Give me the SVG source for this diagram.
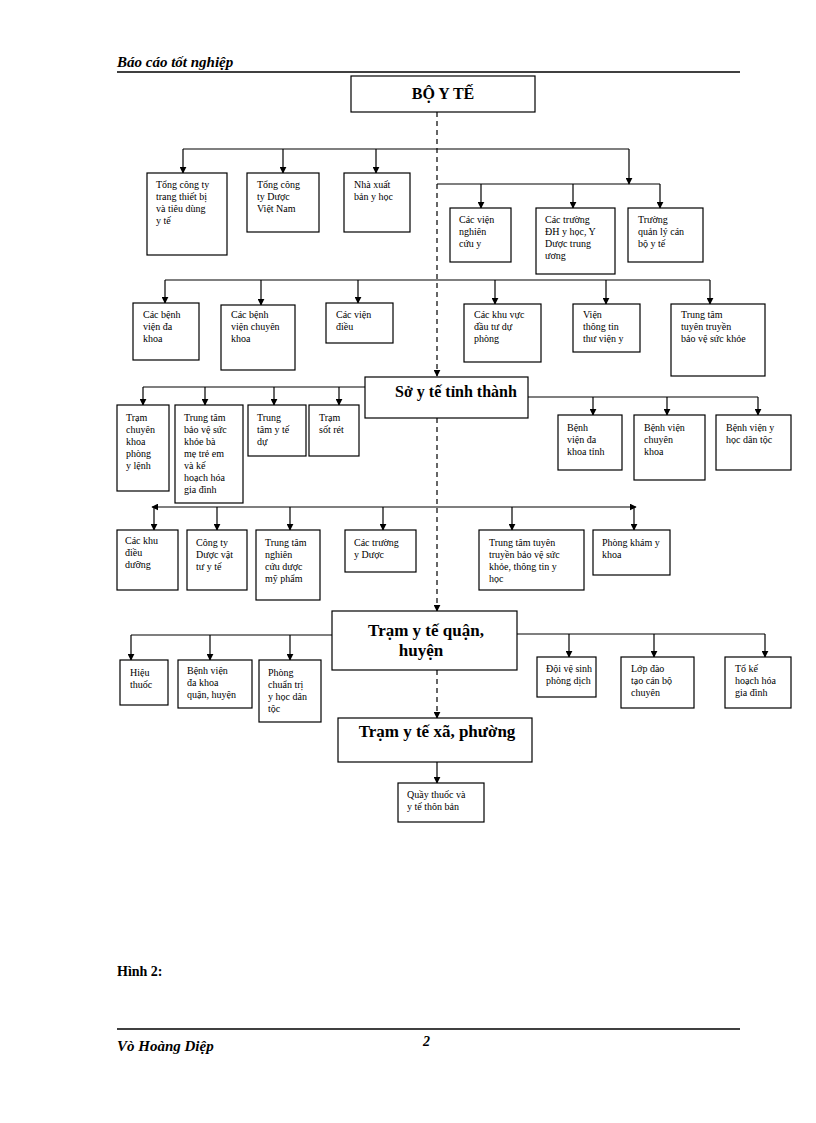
<svg xmlns="http://www.w3.org/2000/svg" width="816" height="1123" viewBox="0 0 816 1123">
<defs>
<marker id="ah" viewBox="0 0 10 10" refX="9" refY="5" markerWidth="7" markerHeight="7" orient="auto" markerUnits="userSpaceOnUse"><path d="M0,0L10,5L0,10z" fill="#000"/></marker>
<style>
.b{fill:#fff;stroke:#000;stroke-width:1.2}
.t{font-family:"Liberation Serif",serif;font-size:10px;fill:#000}
.h{font-family:"Liberation Serif",serif;font-weight:bold;fill:#000}
.c line,.c path{stroke:#000;stroke-width:1.2;fill:none}
.d{stroke-dasharray:5,4}
.a{marker-end:url(#ah)}
</style>
</defs>
<rect width="816" height="1123" fill="#fff"/>
<text x="117" y="67" class="h" font-size="15" font-style="italic">Báo cáo tốt nghiệp</text>
<line x1="117" y1="72" x2="740" y2="72" stroke="#000" stroke-width="1.5"/>
<line x1="117" y1="1029" x2="740" y2="1029" stroke="#000" stroke-width="1.5"/>
<text x="117" y="1051" class="h" font-size="15" font-style="italic">Vò Hoàng Diệp</text>
<text x="423" y="1046" class="h" font-size="14" font-style="italic">2</text>
<text x="117" y="976" class="h" font-size="14">Hình 2:</text>

<g class="c" id="connectors">
<line class="d a" x1="437" y1="112" x2="437" y2="376"/>
<line class="d a" x1="437" y1="418" x2="437" y2="611"/>
<line class="d a" x1="437" y1="670" x2="437" y2="718"/>
<line class="a" x1="437" y1="762" x2="437" y2="783"/>
<path d="M183,149H629"/>
<line class="a" x1="183" y1="149" x2="183" y2="173"/>
<line class="a" x1="283" y1="149" x2="283" y2="173"/>
<line class="a" x1="376" y1="149" x2="376" y2="173"/>
<line class="a" x1="629" y1="149" x2="629" y2="184"/>
<path d="M437,184H660"/>
<line class="a" x1="481" y1="184" x2="481" y2="208"/>
<line class="a" x1="573" y1="184" x2="573" y2="208"/>
<line class="a" x1="660" y1="184" x2="660" y2="208"/>
<path d="M165,280H710"/>
<line class="a" x1="165" y1="280" x2="165" y2="303"/>
<line class="a" x1="261" y1="280" x2="261" y2="305"/>
<line class="a" x1="358" y1="280" x2="358" y2="303"/>
<line class="a" x1="495" y1="280" x2="495" y2="304"/>
<line class="a" x1="606" y1="280" x2="606" y2="304"/>
<line class="a" x1="710" y1="280" x2="710" y2="304"/>
<path d="M365,387H143"/>
<line class="a" x1="143" y1="387" x2="143" y2="405"/>
<line class="a" x1="205" y1="387" x2="205" y2="405"/>
<line class="a" x1="274" y1="387" x2="274" y2="405"/>
<line class="a" x1="339" y1="387" x2="339" y2="405"/>
<path d="M528,397H758"/>
<line class="a" x1="593" y1="397" x2="593" y2="415"/>
<line class="a" x1="667" y1="397" x2="667" y2="415"/>
<line class="a" x1="758" y1="397" x2="758" y2="415"/>
<line class="a" x1="437" y1="507" x2="152" y2="507"/>
<line class="a" x1="437" y1="507" x2="636" y2="507"/>
<line class="a" x1="154" y1="507" x2="154" y2="530"/>
<line class="a" x1="217" y1="507" x2="217" y2="530"/>
<line class="a" x1="290" y1="507" x2="290" y2="530"/>
<line class="a" x1="383" y1="507" x2="383" y2="530"/>
<line class="a" x1="512" y1="507" x2="512" y2="530"/>
<line class="a" x1="634" y1="507" x2="634" y2="530"/>
<path d="M332,635H131"/>
<line class="a" x1="131" y1="635" x2="131" y2="660"/>
<line class="a" x1="210" y1="635" x2="210" y2="660"/>
<line class="a" x1="290" y1="635" x2="290" y2="660"/>
<path d="M517,634H765"/>
<line class="a" x1="569" y1="634" x2="569" y2="657"/>
<line class="a" x1="654" y1="634" x2="654" y2="657"/>
<line class="a" x1="765" y1="634" x2="765" y2="657"/>
</g>

<g id="boyte"><rect class="b" x="351" y="76" width="184" height="36"/><text x="443" y="99" class="h" font-size="16" text-anchor="middle">BỘ Y TẾ</text></g>
<g id="n1"><rect class="b" x="147" y="173" width="80" height="82"/><text class="t" x="156" y="188">Tổng công ty<tspan x="156" dy="12">trang thiết bị</tspan><tspan x="156" dy="12">và tiêu dùng</tspan><tspan x="156" dy="12">y tế</tspan></text></g>
<g id="n2"><rect class="b" x="247" y="173" width="72" height="59"/><text class="t" x="257" y="188">Tổng công<tspan x="257" dy="12">ty Dược</tspan><tspan x="257" dy="12">Việt Nam</tspan></text></g>
<g id="n3"><rect class="b" x="344" y="173" width="66" height="59"/><text class="t" x="354" y="188">Nhà xuất<tspan x="354" dy="12">bản y học</tspan></text></g>
<g id="n4"><rect class="b" x="450" y="208" width="61" height="54"/><text class="t" x="459" y="223">Các viện<tspan x="459" dy="12">nghiên</tspan><tspan x="459" dy="12">cứu y</tspan></text></g>
<g id="n5"><rect class="b" x="536" y="208" width="79" height="66"/><text class="t" x="545" y="223">Các trường<tspan x="545" dy="12">ĐH y học, Y</tspan><tspan x="545" dy="12">Dược trung</tspan><tspan x="545" dy="12">ương</tspan></text></g>
<g id="n6"><rect class="b" x="628" y="208" width="75" height="54"/><text class="t" x="638" y="223">Trường<tspan x="638" dy="12">quản lý cán</tspan><tspan x="638" dy="12">bộ y tế</tspan></text></g>
<g id="n7"><rect class="b" x="133" y="303" width="66" height="57"/><text class="t" x="143" y="318">Các bệnh<tspan x="143" dy="12">viện đa</tspan><tspan x="143" dy="12">khoa</tspan></text></g>
<g id="n8"><rect class="b" x="221" y="305" width="74" height="65"/><text class="t" x="231" y="318">Các bệnh<tspan x="231" dy="12">viện chuyên</tspan><tspan x="231" dy="12">khoa</tspan></text></g>
<g id="n9"><rect class="b" x="326" y="303" width="67" height="40"/><text class="t" x="336" y="318">Các viện<tspan x="336" dy="12">điều</tspan></text></g>
<g id="n10"><rect class="b" x="464" y="304" width="77" height="58"/><text class="t" x="474" y="318">Các khu vực<tspan x="474" dy="12">đầu tư dự</tspan><tspan x="474" dy="12">phòng</tspan></text></g>
<g id="n11"><rect class="b" x="573" y="304" width="67" height="48"/><text class="t" x="583" y="318">Viện<tspan x="583" dy="12">thông tin</tspan><tspan x="583" dy="12">thư viện y</tspan></text></g>
<g id="n12"><rect class="b" x="671" y="304" width="94" height="72"/><text class="t" x="681" y="318">Trung tâm<tspan x="681" dy="12">tuyên truyền</tspan><tspan x="681" dy="12">bảo vệ sức khỏe</tspan></text></g>

<g id="so"><rect class="b" x="365" y="377" width="163" height="41"/><text x="456" y="397" class="h" font-size="16" text-anchor="middle">Sở y tế tỉnh thành</text></g>
<g id="s1"><rect class="b" x="117" y="405" width="52" height="86"/><text class="t" x="126" y="421">Trạm<tspan x="126" dy="12">chuyên</tspan><tspan x="126" dy="12">khoa</tspan><tspan x="126" dy="12">phòng</tspan><tspan x="126" dy="12">y lệnh</tspan></text></g>
<g id="s2"><rect class="b" x="175" y="405" width="68" height="98"/><text class="t" x="184" y="421">Trung tâm<tspan x="184" dy="12">bảo vệ sức</tspan><tspan x="184" dy="12">khỏe bà</tspan><tspan x="184" dy="12">mẹ trẻ em</tspan><tspan x="184" dy="12">và kế</tspan><tspan x="184" dy="12">hoạch hóa</tspan><tspan x="184" dy="12">gia đình</tspan></text></g>
<g id="s3"><rect class="b" x="248" y="405" width="58" height="51"/><text class="t" x="257" y="421">Trung<tspan x="257" dy="12">tâm y tế</tspan><tspan x="257" dy="12">dự</tspan></text></g>
<g id="s4"><rect class="b" x="309" y="405" width="50" height="51"/><text class="t" x="319" y="421">Trạm<tspan x="319" dy="12">sốt rét</tspan></text></g>
<g id="s5"><rect class="b" x="558" y="415" width="64" height="55"/><text class="t" x="567" y="431">Bệnh<tspan x="567" dy="12">viện đa</tspan><tspan x="567" dy="12">khoa tỉnh</tspan></text></g>
<g id="s6"><rect class="b" x="634" y="415" width="71" height="65"/><text class="t" x="644" y="431">Bệnh viện<tspan x="644" dy="12">chuyên</tspan><tspan x="644" dy="12">khoa</tspan></text></g>
<g id="s7"><rect class="b" x="716" y="415" width="75" height="55"/><text class="t" x="726" y="431">Bệnh viện y<tspan x="726" dy="12">học dân tộc</tspan></text></g>
<g id="s8"><rect class="b" x="117" y="530" width="61" height="60"/><text class="t" x="125" y="544">Các khu<tspan x="125" dy="12">điều</tspan><tspan x="125" dy="12">dưỡng</tspan></text></g>
<g id="s9"><rect class="b" x="187" y="530" width="60" height="60"/><text class="t" x="196" y="546">Công ty<tspan x="196" dy="12">Dược vật</tspan><tspan x="196" dy="12">tư y tế</tspan></text></g>
<g id="s10"><rect class="b" x="256" y="530" width="64" height="70"/><text class="t" x="265" y="546">Trung tâm<tspan x="265" dy="12">nghiên</tspan><tspan x="265" dy="12">cứu dược</tspan><tspan x="265" dy="12">mỹ phẩm</tspan></text></g>
<g id="s11"><rect class="b" x="345" y="530" width="71" height="42"/><text class="t" x="354" y="546">Các trường<tspan x="354" dy="12">y Dược</tspan></text></g>
<g id="s12"><rect class="b" x="479" y="530" width="105" height="60"/><text class="t" x="489" y="546">Trung tâm tuyên<tspan x="489" dy="12">truyền bảo vệ sức</tspan><tspan x="489" dy="12">khỏe, thông tin y</tspan><tspan x="489" dy="12">học</tspan></text></g>
<g id="s13"><rect class="b" x="593" y="530" width="77" height="45"/><text class="t" x="602" y="546">Phòng khám y<tspan x="602" dy="12">khoa</tspan></text></g>

<g id="quan"><rect class="b" x="332" y="611" width="185" height="59"/><text x="426" y="636" class="h" font-size="17" text-anchor="middle">Trạm y tế  quận,<tspan x="421" dy="20">huyện</tspan></text></g>
<g id="q1"><rect class="b" x="120" y="660" width="48" height="45"/><text class="t" x="130" y="676">Hiệu<tspan x="130" dy="12">thuốc</tspan></text></g>
<g id="q2"><rect class="b" x="178" y="660" width="74" height="48"/><text class="t" x="187" y="674">Bệnh viện<tspan x="187" dy="12">đa khoa</tspan><tspan x="187" dy="12">quận, huyện</tspan></text></g>
<g id="q3"><rect class="b" x="259" y="660" width="62" height="62"/><text class="t" x="268" y="676">Phòng<tspan x="268" dy="12">chuẩn trị</tspan><tspan x="268" dy="12">y học dân</tspan><tspan x="268" dy="12">tộc</tspan></text></g>
<g id="q4"><rect class="b" x="537" y="657" width="59" height="40"/><text class="t" x="546" y="672">Đội vệ sinh<tspan x="546" dy="12">phòng dịch</tspan></text></g>
<g id="q5"><rect class="b" x="621" y="657" width="73" height="51"/><text class="t" x="631" y="672">Lớp đào<tspan x="631" dy="12">tạo cán bộ</tspan><tspan x="631" dy="12">chuyên</tspan></text></g>
<g id="q6"><rect class="b" x="725" y="657" width="66" height="51"/><text class="t" x="735" y="672">Tổ kế<tspan x="735" dy="12">hoạch hóa</tspan><tspan x="735" dy="12">gia đình</tspan></text></g>

<g id="xa"><rect class="b" x="338" y="718" width="194" height="44"/><text x="437" y="737" class="h" font-size="17" text-anchor="middle">Trạm y tế xã, phường</text></g>
<g id="x1"><rect class="b" x="398" y="783" width="86" height="39"/><text class="t" x="407" y="798">Quầy thuốc và<tspan x="407" dy="12">y tế thôn bản</tspan></text></g>
</svg>
